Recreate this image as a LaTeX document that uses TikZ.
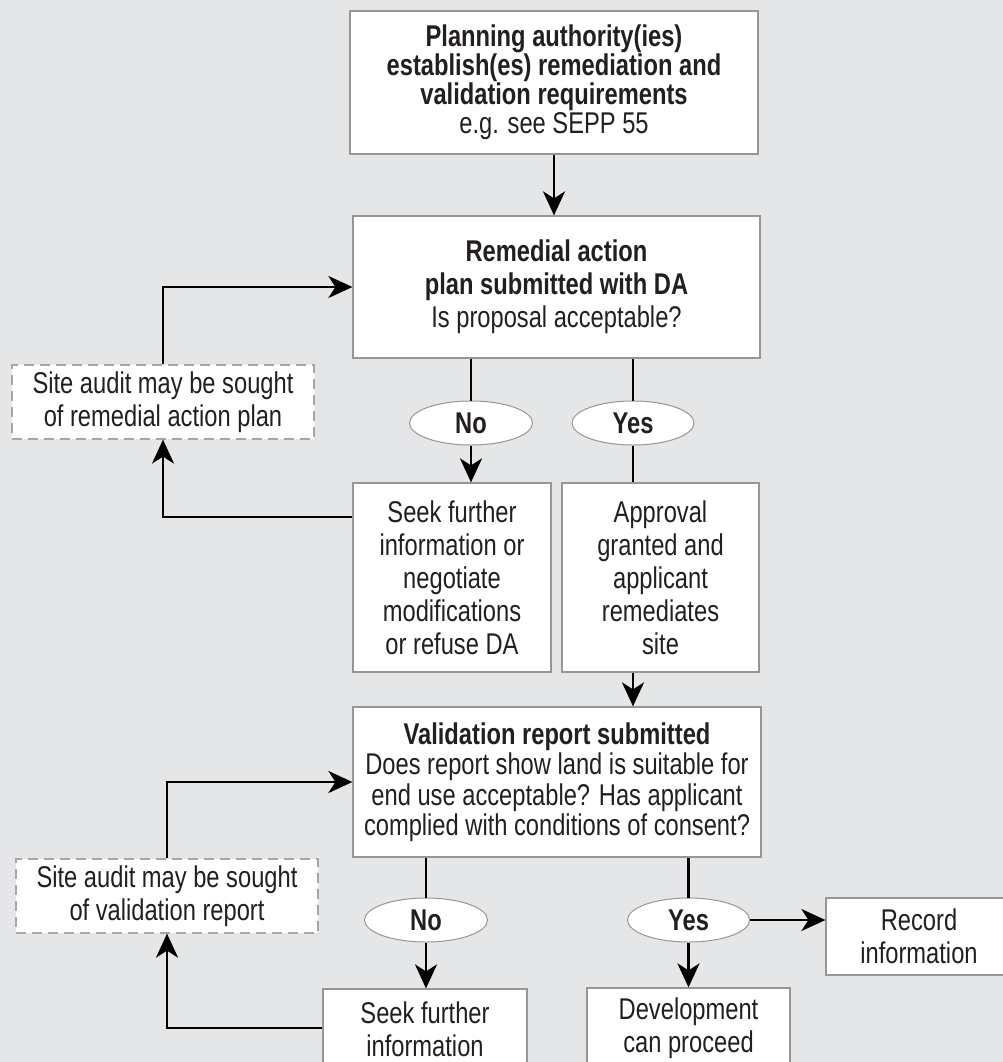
\documentclass[tikz,border=0pt]{standalone}
\usepackage{fontspec}
\setmainfont{Liberation Sans}[FakeStretch=0.79]
\usetikzlibrary{arrows.meta,shapes.geometric,calc}
\definecolor{bg}{RGB}{229,230,232}
\definecolor{bord}{RGB}{150,150,150}
\definecolor{txt}{RGB}{35,31,32}
\newcommand\myfs{\fontsize{30}{33}\selectfont}
\newcommand\myfstop{\fontsize{30}{29}\selectfont}
\newcommand\myfsval{\fontsize{30}{30.5}\selectfont}
\begin{document}
\begin{tikzpicture}[x=1pt,y=-1pt,
  box/.style={draw=bord, line width=1.2pt, fill=white, inner sep=0pt, align=center, text=txt, font=\myfs},
  dbox/.style={box, draw=bord!85, dash pattern=on 10pt off 6pt},
  oval/.style={ellipse, draw=bord, line width=1pt, fill=white, inner sep=0pt, minimum width=123pt, minimum height=44pt, text=txt, font=\myfs\bfseries},
  ln/.style={draw=black, line width=2.6pt},
  arr/.style={ln, -{Stealth[length=24pt,width=22pt,inset=7pt]}}]
\fill[bg] (0,0) rectangle (1003,1062);
\useasboundingbox (0,0) rectangle (1003,1062);
\clip (0,0) rectangle (1003,1062);

\node[box, font=\myfstop, minimum width=408pt, minimum height=143pt] (top) at (554,82.5)
  {\textbf{Planning authority(ies)}\\\textbf{establish(es) remediation and}\\\textbf{validation requirements}\\e.g. see SEPP 55};
\node[box, minimum width=407pt, minimum height=142pt] (rap) at (556.5,287)
  {\textbf{Remedial action}\\\textbf{plan submitted with DA}\\Is proposal acceptable?};
\node[dbox, minimum width=302pt, minimum height=74pt] (audit1) at (163,402)
  {Site audit may be sought\\of remedial action plan};
\node[oval] (no1) at (471,423) {No};
\node[oval, minimum width=122pt] (yes1) at (633,423) {Yes};
\node[box, minimum width=198pt, minimum height=189pt] (seek1) at (452,577.5)
  {Seek further\\information or\\negotiate\\modifications\\or refuse DA};
\node[box, minimum width=197pt, minimum height=189pt] (appr) at (660.5,577.5)
  {Approval\\granted and\\applicant\\remediates\\site};
\node[box, font=\myfsval, minimum width=408pt, minimum height=150pt] (val) at (557,782)
  {\textbf{Validation report submitted}\\Does report show land is suitable for\\end use acceptable? Has applicant\\complied with conditions of consent?};
\node[dbox, minimum width=302pt, minimum height=74pt] (audit2) at (167,896)
  {Site audit may be sought\\of validation report};
\node[oval] (no2) at (426,920) {No};
\node[oval, minimum width=122pt] (yes2) at (688.5,920) {Yes};
\node[box, minimum width=204pt, minimum height=80pt] (seek2) at (425,1029)
  {Seek further\\information};
\node[box, minimum width=203pt, minimum height=80pt] (dev) at (688.5,1028)
  {Development\\can proceed};
\node[box, minimum width=186pt, minimum height=77pt] (rec) at (919,936.5)
  {Record\\information};

\draw[arr] (top.south) -- (top.south |- rap.north);
\draw[ln] (rap.south -| no1.center) -- (no1.north);
\draw[arr] (no1.south) -- (no1.south |- seek1.north);
\draw[ln] (rap.south -| yes1.center) -- (yes1.north);
\draw[ln] (yes1.south) -- (yes1.south |- appr.north);
\draw[arr] ([yshift=60.5pt]seek1.west) -| (audit1.south);
\draw[arr] (audit1.north) |- (rap.west);
\draw[arr] (appr.south -| yes1.center) -- (val.north -| yes1.center);
\draw[ln] (val.south -| no2.center) -- (no2.north);
\draw[arr] (no2.south) -- (no2.south |- seek2.north);
\draw[ln] (val.south -| yes2.center) -- (yes2.north);
\draw[arr] (yes2.south) -- (yes2.south |- dev.north);
\draw[arr] (yes2.east) -- (yes2.east -| rec.west);
\draw[arr] ([yshift=1pt]seek2.west) -| (audit2.south);
\draw[arr] (audit2.north) |- (val.west);
\end{tikzpicture}
\end{document}
